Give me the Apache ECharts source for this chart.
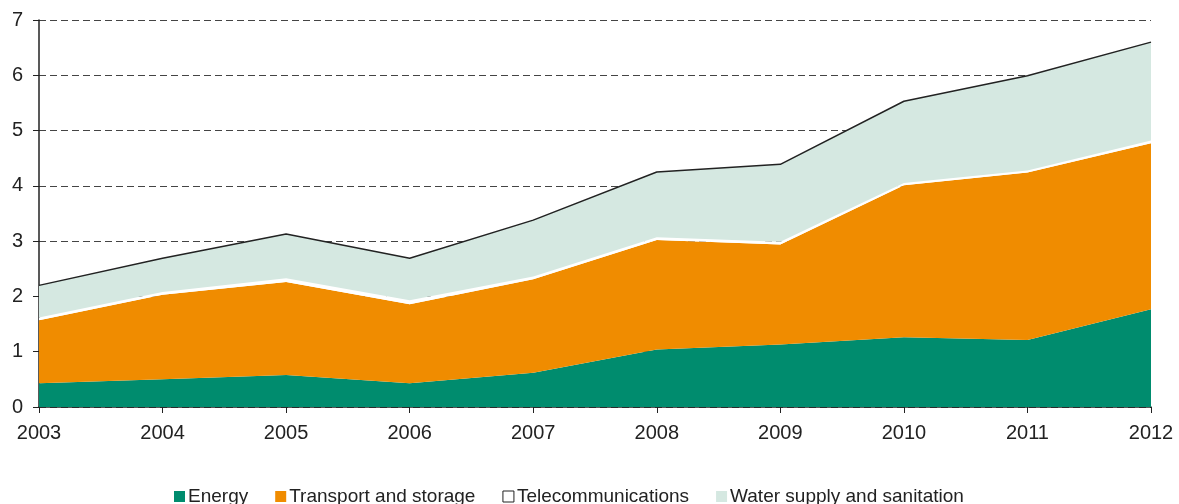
<!DOCTYPE html>
<html><head><meta charset="utf-8">
<script src="https://cdn.jsdelivr.net/npm/echarts@6/dist/echarts.min.js"></script>
<style>html,body{margin:0;padding:0;background:#fff}#c{width:1179px;height:504px}</style>
</head><body><div id="c"></div>
<script>
const years = ['2003','2004','2005','2006','2007','2008','2009','2010','2011','2012'];
const energy = [0.43,0.50,0.58,0.43,0.62,1.04,1.13,1.26,1.21,1.77];
const transport = [1.14,1.53,1.68,1.43,1.69,1.98,1.81,2.75,3.03,3.00];
const telecom = [0.05,0.05,0.07,0.07,0.05,0.05,0.05,0.04,0.04,0.05];
const water = [0.58,0.61,0.80,0.76,1.02,1.18,1.40,1.48,1.71,1.78];
const yTicks = [0,1,2,3,4,5,6,7];

const font = 'Liberation Sans, Arial, Helvetica, sans-serif';
const chart = echarts.init(document.getElementById('c'), null, {renderer:'canvas'});
function area(name, data, color, line) {
  return {
    name, type:'line', stack:'t', data, symbol:'none', silent:true,
    lineStyle: line ? {color:'#222', width:1.5} : {width:0},
    areaStyle:{color, opacity:1},
    itemStyle:{color}
  };
}
chart.setOption({
  animation:false,
  grid:{left:39, right:28, top:20, bottom:97},
  legend:{
    top:482, left:169, itemWidth:11, itemHeight:11, itemGap:27, icon:'rect',
    textStyle:{fontFamily:font, fontSize:19, color:'#222', padding:[0,0,0,-2]},
    data:[
      {name:'Energy', itemStyle:{color:'#008c6e'}},
      {name:'Transport and storage', itemStyle:{color:'#f08c00'}},
      {name:'Telecommunications', itemStyle:{color:'#fff', borderColor:'#222', borderWidth:1}},
      {name:'Water supply and sanitation', itemStyle:{color:'#d5e8e1'}}
    ]
  },
  xAxis:{
    type:'category', data:years, boundaryGap:false,
    axisLine:{lineStyle:{color:'#222', width:1.5}},
    axisTick:{show:true, length:6, inside:false, lineStyle:{color:'#222'}},
    axisLabel:{fontFamily:font, fontSize:20, color:'#222', margin:16},
    splitLine:{show:false}
  },
  yAxis:{
    type:'value', min:yTicks[0], max:yTicks[yTicks.length-1], interval:1,
    axisLine:{show:true, lineStyle:{color:'#222', width:1.5}},
    axisTick:{show:true, length:6, lineStyle:{color:'#222'}},
    axisLabel:{fontFamily:font, fontSize:20, color:'#222', margin:16},
    splitLine:{show:true, lineStyle:{color:'#444', type:[7,4], width:1}}
  },
  series:[
    area('Energy', energy, '#008c6e', false),
    area('Transport and storage', transport, '#f08c00', false),
    area('Telecommunications', telecom, '#ffffff', false),
    area('Water supply and sanitation', water, '#d5e8e1', true)
  ]
});
</script></body></html>
